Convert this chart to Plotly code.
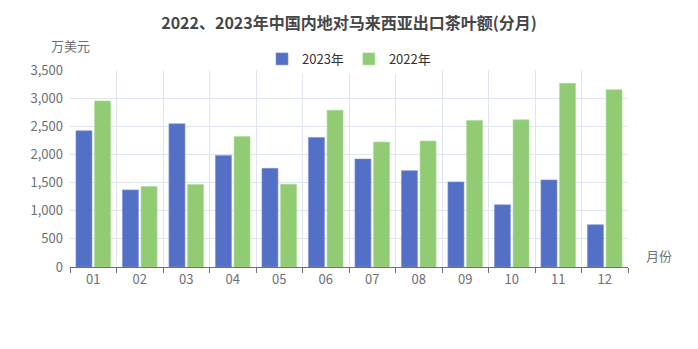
import plotly.graph_objects as go

months = ["01", "02", "03", "04", "05", "06", "07", "08", "09", "10", "11", "12"]
v2023 = [2420, 1370, 2544, 1983, 1753, 2302, 1919, 1712, 1512, 1105, 1547, 751]
v2022 = [2951, 1428, 1464, 2319, 1470, 2786, 2220, 2238, 2602, 2615, 3264, 3151]
yticks = [0, 500, 1000, 1500, 2000, 2500, 3000, 3500]

FONT = "Noto Sans CJK SC"
AX = "#6E7079"

fig = go.Figure()
fig.add_trace(go.Bar(x=months, y=v2023, name="2023年",
                     marker=dict(color="#5470c6", line=dict(color="#7f93d4", width=0.6))))
fig.add_trace(go.Bar(x=months, y=v2022, name="2022年",
                     marker=dict(color="#91cc75", line=dict(color="#addb96", width=0.6))))

fig.update_layout(
    width=698, height=349,
    margin=dict(l=70, r=70, t=70, b=82),
    paper_bgcolor="white", plot_bgcolor="white",
    font=dict(family=FONT, color=AX, size=12),
    title=dict(text="<b>2022、2023年中国内地对马来西亚出口茶叶额(分月)</b>",
               x=0.5, xanchor="center", y=1 - 23 / 349, yanchor="middle",
               font=dict(size=16, color="#464646", family=FONT)),
    barmode="group", bargap=0.2, bargroupgap=0.14,
    legend=dict(orientation="h", x=0.5, xanchor="center", y=1.056, yanchor="middle",
                font=dict(size=13, color="#333333"), itemwidth=30, traceorder="normal"),
    showlegend=True,
)
fig.update_xaxes(type="category", tickson="boundaries", showgrid=True, gridcolor="#E0E6F1",
                 showline=True, linecolor=AX, ticks="outside", tickcolor=AX, ticklen=5,
                 tickfont=dict(size=13, color=AX), mirror=False)
fig.update_yaxes(range=[0, 3500], tickvals=yticks, tickformat=",", showgrid=True,
                 gridcolor="#E0E6F1", zeroline=False, showline=False,
                 tickfont=dict(size=13, color=AX), ticks="", ticklabelstandoff=6)
fig.add_annotation(text="万美元", xref="paper", yref="paper", x=0, y=1, xanchor="center",
                   yanchor="middle", xshift=0, yshift=25,
                   showarrow=False, font=dict(size=13, color=AX, family=FONT))
fig.add_annotation(text="月份", xref="paper", yref="paper", x=1, y=0, xanchor="left", xshift=16,
                   showarrow=False, font=dict(size=13, color=AX, family=FONT))
fig.write_html("out.html")
